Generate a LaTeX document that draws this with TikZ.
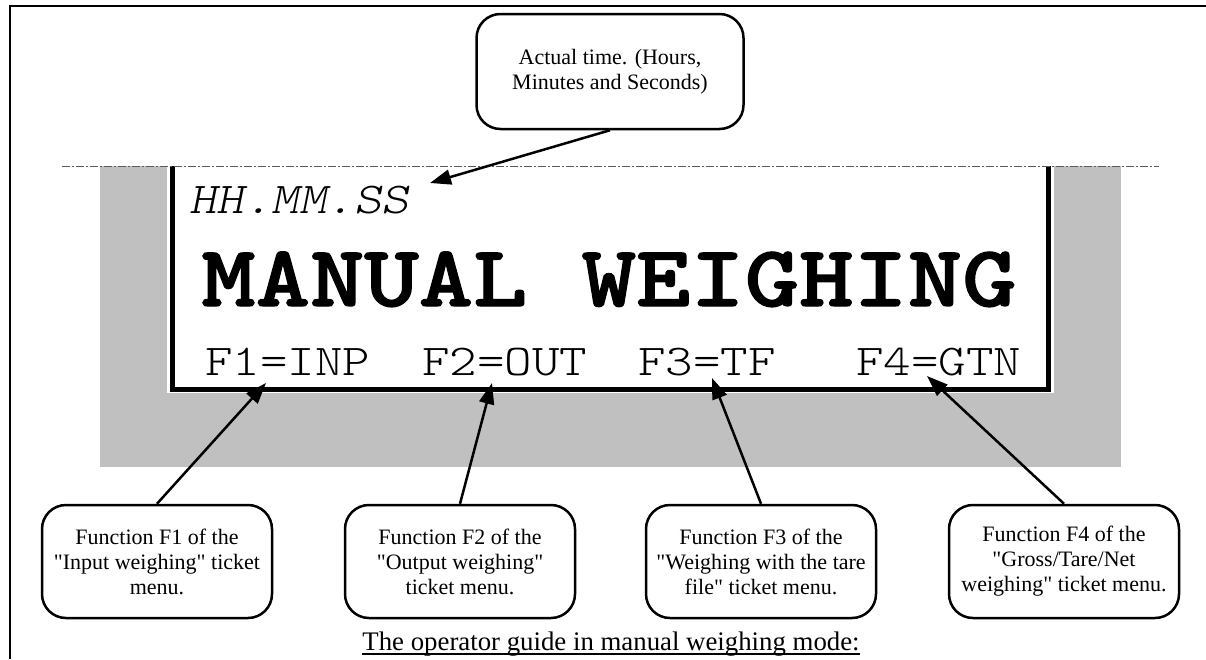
\documentclass[tikz,border=0pt]{standalone}
\usepackage{fontspec}
\setmainfont{Liberation Serif}[Ligatures=TeXOff]
\newfontfamily\dispfont[Extension=.otf, UprightFont=lmmonolt10-regular, ItalicFont=lmmonolt10-oblique, BoldFont=lmmonolt10-bold, BoldFeatures={FakeBold=1.5}, FakeStretch=1.19]{lmmonolt10-regular}
\usetikzlibrary{arrows.meta}
\definecolor{panelgray}{RGB}{192,192,192}
\definecolor{dashgray}{RGB}{90,90,90}
\begin{document}
\begin{tikzpicture}[x=1pt,y=-1pt,
  callout/.style={draw, line width=2.5pt, rounded corners=24pt, minimum width=230pt, minimum height=113pt, align=center, font=\fontsize{22}{25}\selectfont, inner sep=0pt},
  pointer/.style={line width=2.5pt, -{Triangle[length=21pt,width=15pt]}},
  lcd/.style={inner sep=0pt, anchor=base west, font=\dispfont\fontsize{44}{44}\selectfont},
]
\useasboundingbox (0,0) rectangle (1206,659);
% outer frame
\draw[line width=2pt] (10,659) -- (10,5.5) -- (1206,5.5);
% display panel
\fill[panelgray] (100,166) rectangle (1121,467);
\fill[white] (167,166) rectangle (1054,393);
\draw[line width=5.5pt] (172.5,166) -- (172.5,389.5) -- (1048.5,389.5) -- (1048.5,166);
\draw[dashgray, line width=1pt, dash pattern=on 8pt off 2pt on 2pt off 2pt] (62,166) -- (1159,166);
% display texts
\node[lcd, font=\dispfont\itshape\fontsize{44}{44}\selectfont] (hms) at (189,213) {HH.MM.SS};
\node[inner sep=0pt, anchor=base, font=\dispfont\bfseries\fontsize{87}{87}\selectfont] (title) at (609,306) {MANUAL WEIGHING};
\node[lcd] (f1) at (205,375) {F1=INP};
\node[lcd] (f2) at (422,375) {F2=OUT};
\node[lcd] (f3) at (638,375) {F3=TF};
\node[lcd] (f4) at (856,375) {F4=GTN};
% arrow targets
\coordinate (t0) at (430,183);
\coordinate (t1) at (266,383);
\coordinate (t2) at (492,383);
\coordinate (t3) at (712,378);
\coordinate (t4) at (927,376);
% callouts
\node[callout, minimum width=267pt, minimum height=115pt] (ctime) at (610,71.5) {Actual time. (Hours,\\Minutes and Seconds)};
\node[callout] (c1) at (157,561.5) {Function F1 of the\\"Input weighing" ticket\\menu.};
\node[callout] (c2) at (460,561.5) {Function F2 of the\\"Output weighing"\\ticket menu.};
\node[callout] (c3) at (761,561.5) {Function F3 of the\\"Weighing with the tare\\file" ticket menu.};
\node[callout] (c4) at (1064,561.5) {Function F4 of the\\"Gross/Tare/Net\\weighing" ticket menu.};
% pointers
\draw[pointer] (ctime.south) -- (t0);
\draw[pointer] (c1.north) -- (t1);
\draw[pointer] (c2.north) -- (t2);
\draw[pointer] (c3.north) -- (t3);
\draw[pointer] (c4.north) -- (t4);
% caption
\node[inner sep=0pt, anchor=base, font=\fontsize{26.8}{30}\selectfont] (cap) at (611,650) {The operator guide in manual weighing mode:};
\draw[line width=1.5pt] ([yshift=-4pt]cap.base west) -- ([yshift=-4pt]cap.base east);
\end{tikzpicture}
\end{document}
